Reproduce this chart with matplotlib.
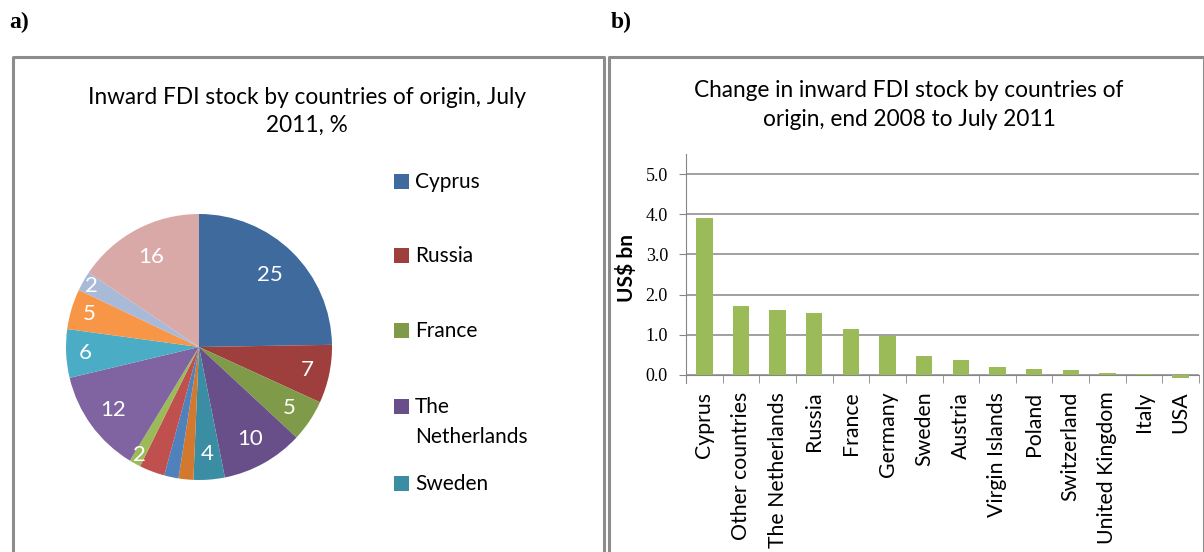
import matplotlib
matplotlib.use("Agg")
import matplotlib.pyplot as plt
from matplotlib.patches import Rectangle
import numpy as np

# ---------------- data ----------------
pie_values = [24.8, 7.1, 5.1, 10.0, 3.8, 1.8, 1.75, 3.1, 1.4, 12.6, 5.9, 4.9, 2.4, 15.6]
pie_labels = ["25", "7", "5", "10", "4", "", "", "", "2", "12", "6", "5", "2", "16"]
pie_colors = ["#3F6A9D", "#9E3F3D", "#7F9A48", "#684F89", "#3B8DA3", "#D2792F",
              "#4F81BD", "#C0504D", "#9BBB59", "#8064A2", "#4BACC6", "#F79646",
              "#A9B9D8", "#D9A9A8"]
legend_names = ["Cyprus", "Russia", "France", "The\nNetherlands", "Sweden"]

bar_categories = ["Cyprus", "Other countries", "The Netherlands", "Russia", "France",
                  "Germany", "Sweden", "Austria", "Virgin Islands", "Poland",
                  "Switzerland", "United Kingdom", "Italy", "USA"]
bar_values = [3.91, 1.71, 1.61, 1.53, 1.15, 0.97, 0.48, 0.38, 0.21, 0.16, 0.13, 0.06, 0.03, -0.08]
y_ticks = [0.0, 1.0, 2.0, 3.0, 4.0, 5.0]

SANS = ["Lato", "DejaVu Sans"]
SERIF = ["Liberation Serif", "DejaVu Serif"]

W, H = 1204, 552
fig = plt.figure(figsize=(W / 100, H / 100), dpi=100)

def fx(px):
    return px / W

def fy(py):
    return 1 - py / H

# panel borders
for (l, r) in [(13, 604), (609, 1204)]:
    fig.add_artist(plt.Line2D([fx(l), fx(l), fx(r), fx(r)], [fy(560), fy(57), fy(57), fy(560)],
                              transform=fig.transFigure, color="#8C8C8C", lw=2.2))

# panel letters
fig.text(fx(9), fy(22), "a)", fontsize=17, fontweight="bold", family=SERIF, va="center", ha="left")
fig.text(fx(611), fy(22), "b)", fontsize=17, fontweight="bold", family=SERIF, va="center", ha="left")

# ---------------- pie ----------------
cx, cy, R = 199, 347, 133
axp = fig.add_axes([fx(cx - R), fy(cy + R), fx(2 * R), (2 * R) / H])
wedges, _ = axp.pie(pie_values, colors=pie_colors, startangle=90, counterclock=False,
                    radius=1.0, wedgeprops=dict(linewidth=0))
axp.set_xlim(-1, 1)
axp.set_ylim(-1, 1)
axp.set_aspect("auto")
axp.axis("off")
label_r = [0.76, 0.83, 0.82, 0.79, 0.81, 0.8, 0.8, 0.8, 0.93, 0.8, 0.86, 0.86, 0.93, 0.77]
for w, lab, rr in zip(wedges, pie_labels, label_r):
    if not lab:
        continue
    ang = np.deg2rad((w.theta1 + w.theta2) / 2)
    axp.text(rr * np.cos(ang), rr * np.sin(ang), lab, color="white", fontsize=16,
             family=SANS, ha="center", va="center")

fig.text(fx(307), fy(97), "Inward FDI stock by countries of origin, July", fontsize=16.3,
         family=SANS, ha="center", va="center")
fig.text(fx(307), fy(125), "2011, %", fontsize=16.3, family=SANS, ha="center", va="center")

# legend (manual)
leg_y = [182, 256, 331, 407, 484]
for w, name, yy in zip(wedges[:5], legend_names, leg_y):
    fig.add_artist(Rectangle((fx(394), fy(yy + 7)), fx(15), 15 / H, transform=fig.transFigure,
                             facecolor=w.get_facecolor(), edgecolor="none"))
    for k, line in enumerate(name.split("\n")):
        fig.text(fx(415), fy(yy + 30 * k), line, fontsize=15, family=SANS, ha="left", va="center")

# ---------------- bar ----------------
ymin, ymax = -0.2, 5.5
top_px, bot_px = 154, 383
axb = fig.add_axes([fx(686), fy(bot_px), fx(1199 - 686), (bot_px - top_px) / H])
x = np.arange(len(bar_categories))
axb.bar(x, bar_values, width=0.45, color="#9BBB59", zorder=3)
axb.set_xlim(-0.5, len(bar_categories) - 0.5)
axb.set_ylim(ymin, ymax)
axb.set_yticks(y_ticks)
axb.set_yticklabels([f"{v:.1f}" for v in y_ticks], family=SERIF, fontsize=13)
axb.yaxis.grid(True, color="#868686", lw=1.1, zorder=0)
for s in ["top", "right"]:
    axb.spines[s].set_visible(False)
axb.spines["left"].set_color("#868686")
axb.spines["bottom"].set_color("#868686")
axb.spines["bottom"].set_position(("data", 0))
axb.tick_params(axis="y", length=5, color="#868686", pad=8)
axb.set_xticks(x)
axb.set_xticklabels(bar_categories, rotation=90, family=SANS, fontsize=15.3, va="top")
axb.set_xticks(np.arange(-0.5, len(bar_categories)), minor=True)
axb.tick_params(axis="x", which="major", length=0, pad=12)
axb.tick_params(axis="x", which="minor", length=6, color="#868686", direction="out")
axb.set_ylabel("US$ bn", family=SANS, fontweight="bold", fontsize=15, labelpad=6)

fig.text(fx(909), fy(90), "Change in inward FDI stock by countries of", fontsize=16.3,
         family=SANS, ha="center", va="center")
fig.text(fx(909), fy(120), "origin, end 2008 to July 2011", fontsize=16.3,
         family=SANS, ha="center", va="center")

fig.savefig("out.png", dpi=100)
